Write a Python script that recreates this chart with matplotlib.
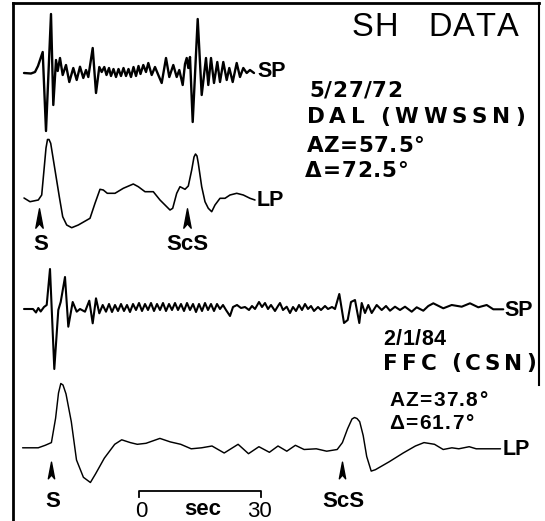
import matplotlib
matplotlib.use("Agg")
import matplotlib.pyplot as plt
from matplotlib.path import Path

# traces: x along the record (plot units), amplitude up from the trace baseline
dal_sp_t = [24, 31, 35, 38, 42.7, 46, 51, 53.3, 56, 57.7, 60, 62.7, 66, 69.3, 73.3,
            76.7, 80, 83.3, 86, 88.3, 92.7, 96, 99.3, 101.7, 104.3, 106.5, 109, 111,
            113.5, 116, 118.5, 121, 123.5, 126, 128.5, 131, 133.5, 136, 138.5, 140.5,
            143.3, 146, 148.3, 151.7, 155, 158.3, 161.7, 166, 169.3, 173.3, 176.7,
            179.3, 182.7, 185, 186.7, 188.3, 190, 192.7, 197.7, 201.7, 206, 208.3,
            211, 214, 217.3, 220, 223.3, 226.7, 229.3, 232.7, 236.7, 240, 243.3,
            246.7, 250, 254]
dal_sp_amp = [0, -0.5, 1, 7, 21, -58, 59, -32, 13, 2, 15, -2, 8, -9, 5, -7, 6.3, -5,
              3, -4, 25, -20, 6, 1, 6, -2, 5, -3, 4, -4, 4, -3, 5, -3, 4, -4, 6, -3,
              7, -1, 8, 1, 10, -2, 6, -2, -10, 15, -4, 8, -4, 3, -12, 9, 15, 5, 16,
              -49, 54, -22, 15, -12, 15, -10, 11, -9, 11, -7, 5, -9, 10, -4, 5, 0, 3, 0]

dal_lp_t = [24, 30, 38.3, 41.7, 44, 46, 47.5, 49, 50.7, 55, 59.3, 62.7, 66.7, 71.7,
            78.3, 90, 95, 100, 103.3, 107.3, 115, 123.3, 133.3, 138.3, 145, 153.3,
            160, 170, 172.7, 176.7, 180, 185, 188.3, 191.7, 194, 195.5, 197, 198.3,
            201.7, 205, 208.3, 211.7, 215, 220, 225, 230, 236.7, 243.3, 250, 255]
dal_lp_amp = [0, -3.7, -2, 3, 28, 50, 58.5, 58.5, 54.7, 28, 1.3, -18.7, -27, -29.7,
              -27, -20.3, -5.3, 8.7, 8, 4.7, 4.7, 9.7, 14, 11.3, 6.3, 6.3, -2, -12,
              -10.3, 4.7, 11.3, 8.7, 12, 28, 41, 44, 42, 34.7, 11.3, -3.7, -10.3,
              -13.7, -7, -0.3, -0.3, 3, 4.7, 3, -0.3, -2]

ffc_sp_t = [24, 33, 36, 38.3, 40.7, 44, 46.7, 50, 54.3, 58.3, 60.7, 65, 68.3, 72.7,
            76.7, 80, 85, 89.3, 92.7, 96, 99.3, 102.7, 106, 109, 112, 115, 118, 121,
            124, 127, 130, 133, 136, 139, 142, 145, 148, 151, 154, 157, 160, 163,
            166, 169, 172, 175, 178, 181, 184, 187, 190, 193, 196, 199, 202, 205,
            208, 211, 214, 217, 220, 223, 226, 230, 233, 237, 241, 245, 249, 252,
            255, 259, 262, 265, 268, 271, 275, 278, 280, 283, 286.7, 290, 293, 296,
            299, 302, 305, 308, 311, 314, 318, 321, 325, 328, 332, 335, 339.3, 344,
            347.7, 351, 355, 359.3, 361.7, 365, 368.3, 371.7, 376.7, 381.7, 386,
            390, 395, 400, 405, 411.7, 416.7, 423.3, 428.3, 433.3, 443.3, 451.7,
            461.7, 470, 478.3, 486.7, 493.3, 503.3]
ffc_sp_amp = [0, 0, -3.5, 1, -2.5, 2, 4, 40, -60, -1,
              7, 32, -17.7, 7, -2.7, 0, -2.7, 8.3, -14.3, 10.7,
              -4.3, 4, -2.7, 5, -3, 4, -2, 5, -2, 4,
              -3, 5, -1, 6, -2, 5, -1, 6, -2, 5,
              -1, 6, -2, 5, -1, 6, -1, 5, -2, 6,
              -1, 5, -3, 5, -2, 6, -1, 5, -2, 5,
              0, 4, -1, -7, 2, 4, 1, 2, -1, 3,
              0, 7, 2, 6, 0, 4, -2, 3, 6, -1,
              2.3, -4, 2, -2, 4, -1, 5, 0, 3, -2,
              2, -1, 3, 0, 2, 0, 15, -14, -11, 7,
              9, -14, 6, -4, 4, -4, 4, -1, 3, -1.7,
              2.3, -1, 2.3, -2.7, 1.7, -1.7, 3, 5.7, 0.7, 4,
              2.3, 5.7, 1.7, 4, -0.3, -0.3]

ffc_lp_t = [22.6, 38.2, 45.2, 51.4, 55.6, 58.5, 60.8, 63, 66, 71.3,
            76.5, 83.4, 90.4, 95.6, 104.3, 114.7, 121.7, 130.3, 137.3, 146,
            159.9, 170.3, 180.7, 191.2, 201.6, 212, 224.2, 238.1, 248.5, 258.9,
            269.4, 278, 286.8, 295.4, 304.1, 316.3, 326.7, 337.2, 342.4, 347.6,
            352, 354.5, 357, 359.7, 363.2, 366.7, 371.2, 375.4, 389.3, 403.2,
            415.4, 424, 434.5, 443.2, 451.9, 458.8, 469.2, 476.2, 486.6, 500.5]
ffc_lp_amp = [0.2, 0.2, 2.7, 5.4, 29.8, 55, 64.5, 63, 54.1, 26.3,
              -12, -29.3, -34.5, -25.8, -10.2, 3.7, 8.2, 5.4, 3.7, 4.7,
              9.6, 6.1, 3.7, -0.8, 0.2, 2, -5, 3.7, -5.7, 1.3,
              -4.3, 2, -3.2, 2.7, -1.5, -0.8, -3.2, -1.5, 5.4, 19.3,
              29, 30.5, 29.5, 26.3, 12.4, -8.5, -23.1, -21.7, -13.7, -5,
              2, 5.4, 3.7, -1.5, 0.2, -0.8, 1.3, -0.8, -0.8, -0.8]

dal_picks = [39.3, 186.7]
ffc_picks = [51.4, 342.4]
pick_names = ['S', 'ScS']
scale_sec = [0, 30]

plt.rcParams['font.family'] = ['Liberation Sans', 'DejaVu Sans']
WIDE = ['DejaVu Sans']

fig = plt.figure(figsize=(5.45, 5.21), dpi=100)
ax = fig.add_axes([0, 0, 1, 1])
ax.set_xlim(0, 545)
ax.set_ylim(521, 0)
ax.axis('off')
renderer = fig.canvas.get_renderer()


def spread_text(x0, x1, y, s, size, weight='bold', family=None):
    # lay characters out one by one so the line fills x0..x1 (letter-spaced type)
    kw = {'family': family} if family else {}
    parts = []
    for ch in s:
        t = ax.text(0, y, ch, fontsize=size, fontweight=weight, va='baseline',
                    ha='left', **kw)
        if ch == ' ':
            w = size * 0.28 * 100 / 72
        else:
            w = t.get_window_extent(renderer).width
        parts.append((t, w))
    gap = (x1 - x0 - sum(w for t, w in parts)) / max(len(parts) - 1, 1)
    x = x0
    for t, w in parts:
        t.set_x(x)
        x += w + max(gap, 0.5)


def trace(t, amp, base, lw):
    ax.plot(t, [base - a for a in amp], color='black', lw=lw,
            solid_joinstyle='round', solid_capstyle='round')


trace(dal_sp_t, dal_sp_amp, 73, 1.7)
trace(dal_lp_t, dal_lp_amp, 198, 1.15)
trace(ffc_sp_t, ffc_sp_amp, 309, 1.5)
trace(ffc_lp_t, ffc_lp_amp, 448, 1.05)

# channel labels
ax.text(257, 77, 'SP', fontsize=15.5, fontweight='bold', va='baseline')
ax.text(257, 205.5, 'LP', fontsize=15.5, fontweight='bold', va='baseline')
ax.text(504, 315.5, 'SP', fontsize=15.5, fontweight='bold', va='baseline')
ax.text(503, 455, 'LP', fontsize=15.5, fontweight='bold', va='baseline')

# phase arrows
arrow = Path([(0, 1), (0.38, -1), (0, -0.55), (-0.38, -1), (0, 1)],
             [Path.MOVETO, Path.LINETO, Path.LINETO, Path.LINETO, Path.CLOSEPOLY])
ax.plot(dal_picks, [218, 218], ls='none', marker=arrow, markersize=14, color='black')
ax.plot(ffc_picks, [470, 470], ls='none', marker=arrow, markersize=12, color='black')
for x, name in zip(dal_picks, pick_names):
    ax.text(x + 1, 250, name, fontsize=16, fontweight='bold', ha='center', va='baseline')
for x, name in zip(ffc_picks, pick_names):
    ax.text(x + 1.5, 507, name, fontsize=16, fontweight='bold', ha='center', va='baseline')

# time scale bar
px_per_sec = 4.08
bx0 = 139
bx1 = bx0 + (scale_sec[1] - scale_sec[0]) * px_per_sec
ax.plot([bx0, bx0, bx1, bx1], [497, 491, 491, 497], color='black', lw=1.3)
ax.text(bx0 + 2, 517, str(scale_sec[0]), fontsize=16, ha='center', va='baseline')
ax.text(203, 515, 'sec', fontsize=16, fontweight='bold', ha='center', va='baseline')
ax.text(bx1 - 2, 517, str(scale_sec[1]), fontsize=16, ha='center', va='baseline')

# event info
spread_text(351.7, 396.7, 36, 'SH', 23.5, weight='normal')
spread_text(428, 518.3, 36, 'DATA', 23.5, weight='normal')
spread_text(309, 390, 96.7, '5/27/72', 15.5, family=WIDE)
spread_text(306.7, 525, 122.7, 'DAL (WWSSN)', 15.5, family=WIDE)
spread_text(306.7, 416.7, 151.7, 'AZ=57.5°', 15.5, family=WIDE)
spread_text(305, 408, 176.7, 'Δ=72.5°', 15.5, family=WIDE)
spread_text(383.3, 437, 345, '2/1/84', 15.5)
spread_text(383.3, 536, 369.5, 'FFC (CSN)', 15.5, family=WIDE)
spread_text(389, 487, 406, 'AZ=37.8°', 15)
spread_text(389, 473, 428.7, 'Δ=61.7°', 15)

# frame
ax.plot([12.5, 12.5], [3, 521], color='black', lw=2)
ax.plot([12.5, 538.5], [3, 3], color='black', lw=2)
ax.plot([538.5, 538.5], [3, 385], color='black', lw=1.5)

fig.savefig('out.png', dpi=100, facecolor='white')
